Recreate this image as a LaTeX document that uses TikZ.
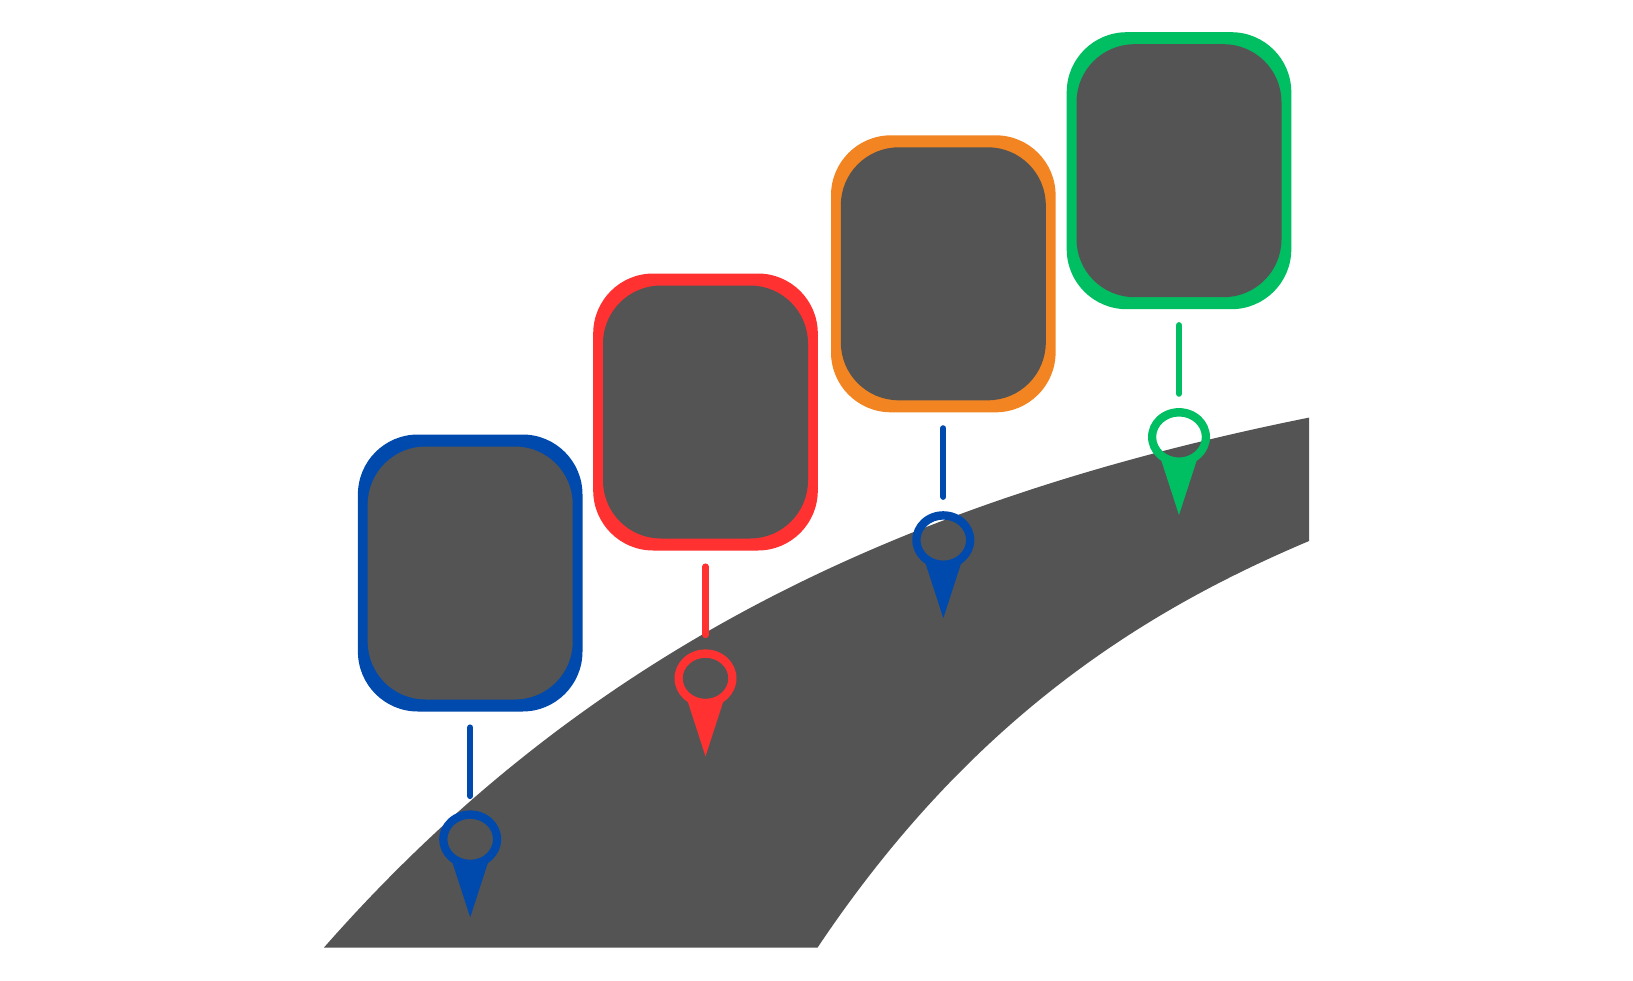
\documentclass[tikz,border=0pt]{standalone}
\definecolor{roadgray}{HTML}{545454}
\definecolor{pinblue}{HTML}{004AAD}
\definecolor{pinred}{HTML}{FF3131}
\definecolor{pinorange}{HTML}{F28522}
\definecolor{pingreen}{HTML}{00BF63}
\tikzset{
  frame/.style={rectangle,inner sep=0pt,outer sep=0pt,minimum width=224.6pt,minimum height=277pt,rounded corners=60pt,fill=#1},
  panel/.style={rectangle,inner sep=0pt,outer sep=0pt,minimum width=205pt,minimum height=253pt,rounded corners=58pt,fill=roadgray},
  link/.style={line width=6.2pt,line cap=round,draw=#1},
}
% #1 name, #2 x of centre, #3 y of box centre, #4 colour, #5 frame colour
\newcommand{\stopmark}[5]{%
  \node[frame=#5] (box#1) at (#2,#3) {};
  \node[panel] (panel#1) at (#2,#3) {};
  \coordinate (pin#1) at (#2,#3+266.3);
  \draw[link=#4] ([yshift=-16pt]box#1.south) -- ([yshift=-84.5pt]box#1.south);
  \fill[#4,even odd rule] (pin#1) ellipse [x radius=31pt,y radius=28.9pt] ellipse [x radius=22.8pt,y radius=20.5pt];
  \fill[#4] ([shift={(-18.5pt,-21pt)}]pin#1) -- ([shift={(18.5pt,-21pt)}]pin#1) -- ([shift={(0pt,-78pt)}]pin#1) -- cycle;
}
\begin{document}
\begin{tikzpicture}[x=1pt,y=-1pt]
\useasboundingbox (0,0) rectangle (1633,980);
\fill[white] (0,0) rectangle (1633,980);
\fill[roadgray] (324,947.5) .. controls (590,645) and (910,498) .. (1309,417.6)
  -- (1309,541) .. controls (1153,607) and (975,712) .. (817.6,947.5) -- cycle;
\stopmark{a}{470.2}{573}{pinblue}{pinblue}
\stopmark{b}{705.5}{412}{pinred}{pinred}
\stopmark{c}{943.3}{273.8}{pinblue}{pinorange}
\stopmark{d}{1179}{170.7}{pingreen}{pingreen}
\end{tikzpicture}
\end{document}
